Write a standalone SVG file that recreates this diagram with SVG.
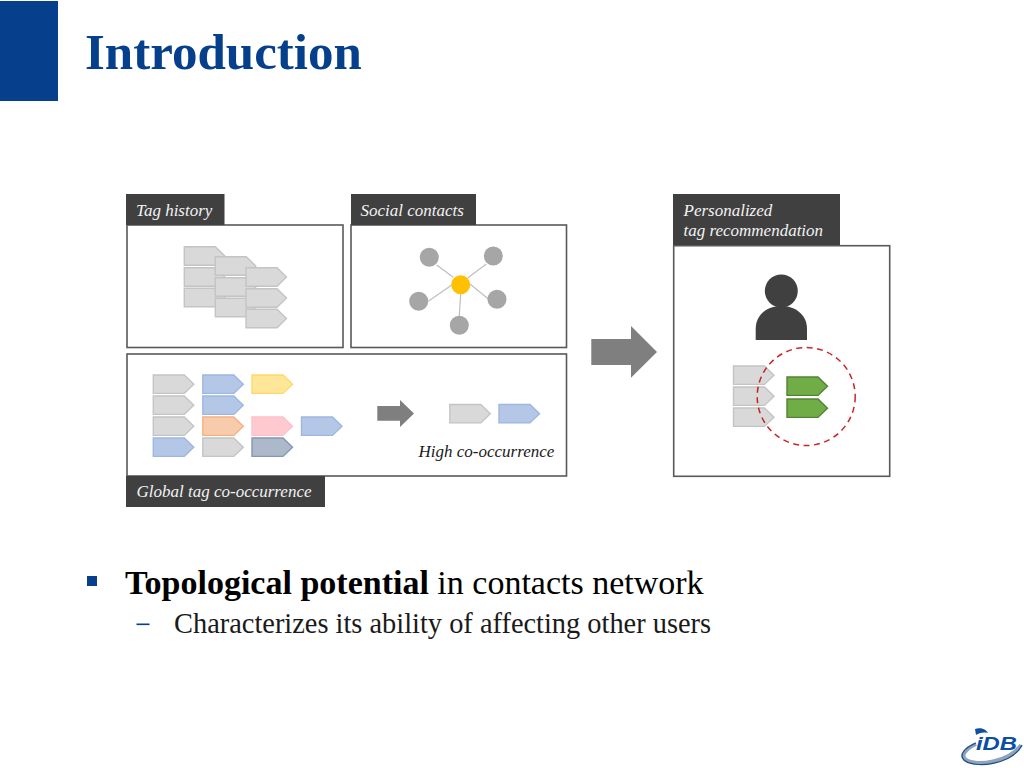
<svg xmlns="http://www.w3.org/2000/svg" xmlns:xlink="http://www.w3.org/1999/xlink" width="1024" height="768" viewBox="0 0 1024 768">
<style>
text{font-family:"Liberation Serif","Times New Roman",serif}
.box{fill:#fff;stroke:#595959;stroke-width:1.6}
.hd{fill:#404040}
.cap{font-size:17px;font-style:italic;fill:#f2f2f2}
.dark{font-size:17px;font-style:italic;fill:#1a1a1a}
.g{fill:#d9d9d9;stroke:#c4c4c4}
.b{fill:#b4c7e7;stroke:#9db7e0}
.y{fill:#ffe699;stroke:#ffd966}
.o{fill:#f8cbad;stroke:#f4b183}
.p{fill:#ffc9d0;stroke:#ffc0cb}
.s{fill:#adb9ca;stroke:#8497b0}
.v{fill:#70ad47;stroke:#548235}
.tag{stroke-width:1.4}
.n{fill:#a6a6a6}
.e{stroke:#bfbfbf;stroke-width:1.2;fill:none}
</style>
<defs><polygon id="t" points="0,0 31,0 40.500,9.200 31,18.400 0,18.400"/></defs>
<rect id="corner" x="0" y="1" width="58" height="100" fill="#063f8c"/>
<text id="title" x="85" y="69" font-size="51" font-weight="bold" fill="#063f8c">Introduction</text>

<g id="tag-history">
<rect class="box" x="127" y="225" width="216" height="122.500"/>
<rect class="hd" x="126" y="194" width="98.500" height="31"/>
<text class="cap" x="136" y="215.500">Tag history</text>
<g class="tag g">
<use xlink:href="#t" x="184.300" y="246.800"/><use xlink:href="#t" x="184.300" y="267.800"/><use xlink:href="#t" x="184.300" y="288.300"/>
<use xlink:href="#t" x="215.300" y="256.800"/><use xlink:href="#t" x="215.300" y="277.800"/><use xlink:href="#t" x="215.300" y="298.300"/>
<use xlink:href="#t" x="246" y="267.800"/><use xlink:href="#t" x="246" y="288.800"/><use xlink:href="#t" x="246" y="309.300"/>
</g>
</g>

<g id="social-contacts">
<rect class="box" x="351" y="225" width="215.500" height="122.500"/>
<rect class="hd" x="351" y="194" width="125" height="31"/>
<text class="cap" x="360.500" y="215.500">Social contacts</text>
<g id="connectors">
<line class="e" x1="453.300" y1="277.300" x2="436.700" y2="265"/>
<line class="e" x1="467.700" y1="278" x2="486.300" y2="264"/>
<line class="e" x1="451.700" y1="285" x2="428.300" y2="301.300"/>
<line class="e" x1="470" y1="284" x2="488.300" y2="299"/>
<line class="e" x1="460.700" y1="294" x2="459.300" y2="316"/>
</g>
<circle class="n" cx="429.300" cy="257.300" r="9.500"/>
<circle class="n" cx="493.300" cy="256" r="9.500"/>
<circle class="n" cx="418.700" cy="301.300" r="9.500"/>
<circle class="n" cx="497" cy="299.300" r="9.500"/>
<circle class="n" cx="459.300" cy="325.300" r="9.500"/>
<circle cx="460.700" cy="284.700" r="9.500" fill="#ffc000"/>
</g>

<g id="global-co-occurrence">
<rect class="box" x="127" y="354" width="439.500" height="122"/>
<rect class="hd" x="126" y="476" width="199" height="31"/>
<text class="cap" x="136.500" y="497">Global tag co-occurrence</text>
<g class="tag">
<use class="g" xlink:href="#t" x="153.300" y="375"/><use class="g" xlink:href="#t" x="153.300" y="396"/><use class="g" xlink:href="#t" x="153.300" y="417"/><use class="b" xlink:href="#t" x="153.300" y="438"/>
<use class="b" xlink:href="#t" x="202.800" y="375"/><use class="b" xlink:href="#t" x="202.800" y="396"/><use class="o" xlink:href="#t" x="202.800" y="417"/><use class="g" xlink:href="#t" x="202.800" y="438"/>
<use class="y" xlink:href="#t" x="252" y="375"/><use class="p" xlink:href="#t" x="252" y="417"/><use class="s" xlink:href="#t" x="252" y="438"/>
<use class="b" xlink:href="#t" x="301.500" y="417"/>
<use class="g" xlink:href="#t" x="449.800" y="404.500"/><use class="b" xlink:href="#t" x="499" y="404.500"/>
</g>
<polygon points="377.300,406 400,406 400,400 414,413.500 400,427 400,420.700 377.300,420.700" fill="#7f7f7f"/>
<text class="dark" x="418.500" y="457">High co-occurrence</text>
</g>

<polygon id="main-arrow" points="591.300,339 631,339 631,326 657,352 631,377.700 631,365 591.300,365" fill="#7f7f7f"/>

<g id="personalized">
<rect class="box" x="673.700" y="245.700" width="216" height="230.600"/>
<rect class="hd" x="673" y="194" width="167" height="51"/>
<text class="cap" x="683.500" y="215.500">Personalized</text>
<text class="cap" x="683.500" y="236">tag recommendation</text>
<circle class="hd" cx="781.300" cy="291" r="16.500"/>
<path class="hd" d="M755.700 340V329C755.700 314 768 306 781.300 306S807 314 807 329V340Z"/>
<g class="tag">
<use class="g" xlink:href="#t" x="733.500" y="366"/><use class="g" xlink:href="#t" x="733.500" y="387"/><use class="g" xlink:href="#t" x="733.500" y="408"/>
<use class="v" xlink:href="#t" x="787" y="377"/><use class="v" xlink:href="#t" x="787" y="399"/>
</g>
<circle cx="806.200" cy="396.500" r="49" fill="none" stroke="#c00000" stroke-width="1.500" stroke-dasharray="6 4.500" opacity=".85"/>
</g>

<g id="bullets">
<rect x="87" y="576" width="10" height="10" fill="#063f8c"/>
<text x="125" y="594" font-size="34" fill="#000"><tspan font-weight="bold">Topological potential</tspan> in contacts network</text>
<rect x="136.500" y="623.500" width="13" height="1.600" fill="#063f8c"/>
<text x="174" y="633" font-size="28.400" fill="#1a1a1a">Characterizes its ability of affecting other users</text>
</g>

<g id="logo">
<path d="M975 729C980 727 986 729 988 733C983 732 979 733 976 735Z" fill="#0b4ea2"/>
<path d="M976 744C965 749 960 756 966 760C976 767 1010 762 1021 745" fill="none" stroke="#8fa3bb" stroke-width="4"/>
<path d="M976 743C964 748 959 755 964 760C974 769 1012 765 1022 745" fill="none" stroke="#1d4f8c" stroke-width="1.200"/>
<text x="976" y="750" font-size="18" font-weight="bold" font-style="italic" fill="#0b4ea2" style="font-family:'Liberation Sans',sans-serif" textLength="41" lengthAdjust="spacingAndGlyphs">iDB</text>
</g>
</svg>
